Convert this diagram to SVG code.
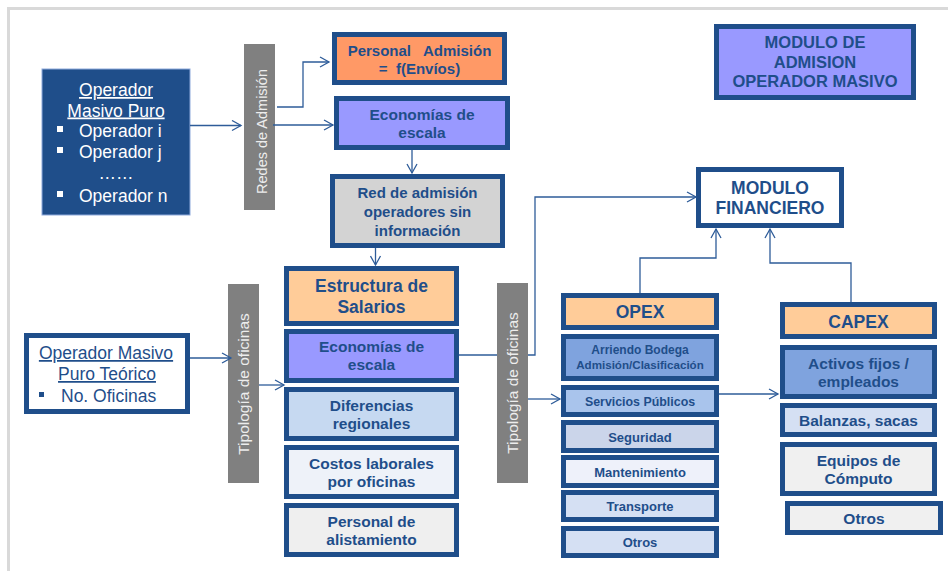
<svg xmlns="http://www.w3.org/2000/svg" width="948" height="571" viewBox="0 0 948 571">
<defs>
<style>
.b{stroke:#1F4E8A;stroke-width:5}
.o{fill:none;stroke:#8EA9DB;stroke-width:1}
.t{font-family:"Liberation Sans",Arial,sans-serif;font-weight:bold;fill:#1F4E8A;text-anchor:middle}
.r{font-family:"Liberation Sans",Arial,sans-serif;font-size:17.5px}
.bar{fill:#808080}
.vt{font-family:"Liberation Sans",Arial,sans-serif;fill:#EDEDED;text-anchor:middle}
.c{fill:none;stroke:#2E5C99;stroke-width:1.3}
</style>
<marker id="a" markerUnits="userSpaceOnUse" markerWidth="12" markerHeight="12" refX="10" refY="6" orient="auto">
<path d="M1,1 L10,6 L1,11" fill="none" stroke="#2E5C99" stroke-width="1.3"/>
</marker>
</defs>
<rect width="948" height="571" fill="#FFFFFF"/>
<path d="M8.5,571 V8.5 H948" fill="none" stroke="#D9D9D9" stroke-width="3"/>

<g id="operador-masivo-puro">
<rect x="42" y="69" width="148" height="146" fill="#1F4E8A"/>
<rect x="42" y="69" width="148" height="146" class="o"/>
<text class="r" fill="#FFFFFF" text-anchor="middle"><tspan x="116" y="96" text-decoration="underline">Operador</tspan><tspan x="116" y="116.5" text-decoration="underline">Masivo Puro</tspan></text>
<rect x="57" y="126" width="6" height="6" fill="#FFFFFF"/>
<rect x="57" y="147" width="6" height="6" fill="#FFFFFF"/>
<rect x="57" y="191" width="6" height="6" fill="#FFFFFF"/>
<text class="r" fill="#FFFFFF"><tspan x="79" y="137">Operador i</tspan><tspan x="79" y="158">Operador j</tspan><tspan x="116" y="179" text-anchor="middle">……</tspan><tspan x="79" y="201.5">Operador n</tspan></text>
</g>

<g id="redes-admision">
<rect x="244" y="44" width="31" height="166" class="bar"/>
<text class="vt" font-size="14.5" transform="translate(267,131.5) rotate(-90)">Redes de Admisión</text>
</g>

<g id="personal-admision">
<rect x="334.5" y="34.5" width="170" height="48" fill="#FF9966" class="b"/>
<text class="t" font-size="15" style="white-space:pre"><tspan x="419.5" y="55.5">Personal   Admisión</tspan><tspan x="419.5" y="73.5">=  f(Envíos)</tspan></text>
</g>

<g id="economias-escala-1">
<rect x="336.5" y="98.5" width="171" height="49" fill="#9999FF" class="b"/>
<text class="t" font-size="15.5"><tspan x="422" y="119.5">Economías de</tspan><tspan x="422" y="137.5">escala</tspan></text>
</g>

<g id="red-admision">
<rect x="332.5" y="176.5" width="170" height="69" fill="#D3D3D3" class="b"/>
<text class="t" font-size="15"><tspan x="417.5" y="198">Red de admisión</tspan><tspan x="417.5" y="216.5">operadores sin</tspan><tspan x="417.5" y="235.5">información</tspan></text>
</g>

<g id="modulo-admision">
<rect x="716.5" y="26.5" width="197" height="71" fill="#9999FF" class="b"/>
<text class="t" font-size="16.5"><tspan x="815" y="48">MODULO DE</tspan><tspan x="815" y="68">ADMISION</tspan><tspan x="815" y="87">OPERADOR MASIVO</tspan></text>
</g>

<g id="modulo-financiero">
<rect x="698.5" y="169.5" width="143" height="56" fill="#FFFFFF" class="b"/>
<text class="t" font-size="17.5"><tspan x="770" y="193.7">MODULO</tspan><tspan x="770" y="214">FINANCIERO</tspan></text>
</g>

<g id="operador-masivo-teorico">
<rect x="26.5" y="335.5" width="161" height="76" fill="#FFFFFF" class="b"/>
<text class="r" fill="#1F4E8A" text-anchor="middle"><tspan x="106" y="359" text-decoration="underline">Operador Masivo</tspan><tspan x="107" y="380" text-decoration="underline">Puro Teórico</tspan></text>
<rect x="39" y="392" width="5" height="5" fill="#1F4E8A"/>
<text class="r" fill="#1F4E8A" x="61" y="402">No. Oficinas</text>
</g>

<g id="tipologia-1">
<rect x="228" y="284" width="31" height="199" class="bar"/>
<text class="vt" font-size="15.5" transform="translate(249,384) rotate(-90)">Tipología de oficinas</text>
</g>

<g id="estructura-salarios">
<rect x="286.5" y="268.5" width="170" height="55" fill="#FFCC99" class="b"/>
<text class="t" font-size="17.5"><tspan x="371.5" y="292.3">Estructura de</tspan><tspan x="371.5" y="313">Salarios</tspan></text>
</g>

<g id="economias-escala-2">
<rect x="286.5" y="331.5" width="170" height="49" fill="#9999FF" class="b"/>
<text class="t" font-size="15.5"><tspan x="371.5" y="352">Economías de</tspan><tspan x="371.5" y="370">escala</tspan></text>
</g>

<g id="diferencias-regionales">
<rect x="286.5" y="389.5" width="170" height="49" fill="#C6D9F1" class="b"/>
<text class="t" font-size="15.5"><tspan x="371.5" y="411">Diferencias</tspan><tspan x="371.5" y="428.5">regionales</tspan></text>
</g>

<g id="costos-laborales">
<rect x="286.5" y="447.5" width="170" height="49" fill="#EEF2F9" class="b"/>
<text class="t" font-size="15.5"><tspan x="371.5" y="469">Costos laborales</tspan><tspan x="371.5" y="487">por oficinas</tspan></text>
</g>

<g id="personal-alistamiento">
<rect x="286.5" y="505.5" width="170" height="49" fill="#EFEFEF" class="b"/>
<text class="t" font-size="15.5"><tspan x="371.5" y="527">Personal de</tspan><tspan x="371.5" y="545">alistamiento</tspan></text>
</g>

<g id="tipologia-2">
<rect x="497" y="283" width="31" height="200" class="bar"/>
<text class="vt" font-size="15.5" transform="translate(518,383) rotate(-90)">Tipología de oficinas</text>
</g>

<g id="opex">
<rect x="563.5" y="295.5" width="153" height="32" fill="#FFCC99" class="b"/>
<text class="t" font-size="17.5" x="640" y="318">OPEX</text>
</g>

<g id="arriendo-bodega">
<rect x="563.5" y="336.5" width="153" height="42" fill="#7FA3DE" class="b"/>
<text class="t" font-size="12"><tspan x="640" y="354.3">Arriendo Bodega</tspan><tspan x="640" y="369.3" font-size="11.6">Admisión/Clasificación</tspan></text>
</g>

<g id="servicios-publicos">
<rect x="563.5" y="387.5" width="153" height="27" fill="#A9C4EC" class="b"/>
<text class="t" font-size="12.4" x="640" y="405.7">Servicios Públicos</text>
</g>

<g id="seguridad">
<rect x="563.5" y="422.5" width="153" height="28" fill="#CBD5EA" class="b"/>
<text class="t" font-size="13" x="640" y="441.5">Seguridad</text>
</g>

<g id="mantenimiento">
<rect x="563.5" y="457.5" width="153" height="28" fill="#EEF1FA" class="b"/>
<text class="t" font-size="13" x="640" y="477">Mantenimiento</text>
</g>

<g id="transporte">
<rect x="563.5" y="492.5" width="153" height="27" fill="#D5E0F3" class="b"/>
<text class="t" font-size="13" x="640" y="511">Transporte</text>
</g>

<g id="otros-opex">
<rect x="563.5" y="528.5" width="153" height="27" fill="#D5E0F3" class="b"/>
<text class="t" font-size="13" x="640" y="547">Otros</text>
</g>

<g id="capex">
<rect x="782.5" y="304.5" width="152" height="32" fill="#FFCC99" class="b"/>
<text class="t" font-size="17.5" x="858.5" y="328">CAPEX</text>
</g>

<g id="activos-fijos">
<rect x="782.5" y="347.5" width="152" height="49" fill="#7FA3DE" class="b"/>
<text class="t" font-size="15.5"><tspan x="858.5" y="369">Activos fijos /</tspan><tspan x="858.5" y="387">empleados</tspan></text>
</g>

<g id="balanzas-sacas">
<rect x="782.5" y="405.5" width="152" height="29" fill="#D5E0F3" class="b"/>
<text class="t" font-size="15.5" x="858.5" y="426">Balanzas, sacas</text>
</g>

<g id="equipos-computo">
<rect x="782.5" y="444.5" width="152" height="49" fill="#F0F0F0" class="b"/>
<text class="t" font-size="15.5"><tspan x="858.5" y="466">Equipos de</tspan><tspan x="858.5" y="484">Cómputo</tspan></text>
</g>

<g id="otros-capex">
<rect x="787.5" y="503.5" width="153" height="29" fill="#F0F0F0" class="b"/>
<text class="t" font-size="15.5" x="864" y="524">Otros</text>
</g>

<g id="connectors">
<path class="c" d="M190,125.5 H241" marker-end="url(#a)"/>
<path class="c" d="M277,107 H303 V62 H329" marker-end="url(#a)"/>
<path class="c" d="M273,125 H333" marker-end="url(#a)"/>
<path class="c" d="M412,150 V173" marker-end="url(#a)"/>
<path class="c" d="M375.5,248 V265" marker-end="url(#a)"/>
<path class="c" d="M190,358 H231" marker-end="url(#a)"/>
<path class="c" d="M259,385 H284" marker-end="url(#a)"/>
<path class="c" d="M459,355 H497"/>
<path class="c" d="M528,355 H535 V197 H696" marker-end="url(#a)"/>
<path class="c" d="M528,399 H560" marker-end="url(#a)"/>
<path class="c" d="M719,394 H778" marker-end="url(#a)"/>
<path class="c" d="M640,293 V258 H716 V229" marker-end="url(#a)"/>
<path class="c" d="M851,302 V263 H770 V229" marker-end="url(#a)"/>
</g>
</svg>
